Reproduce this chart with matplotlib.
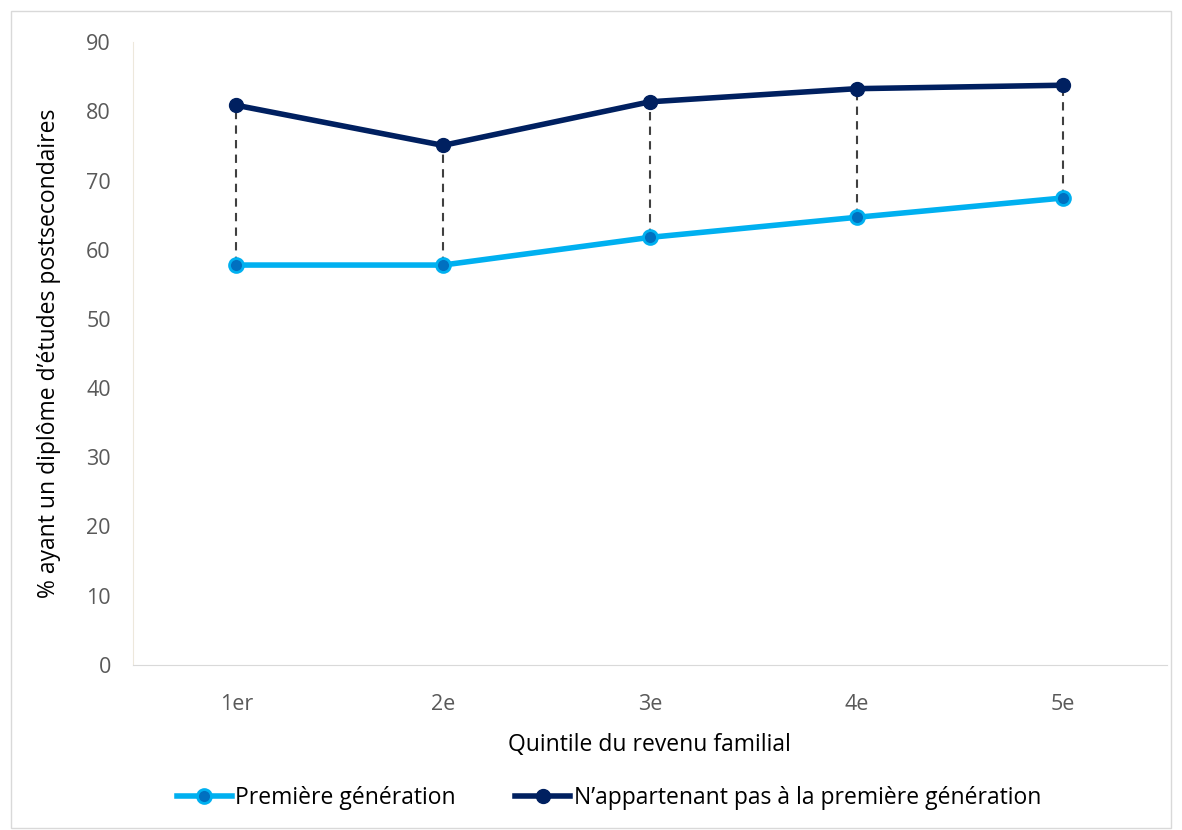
import matplotlib
matplotlib.use('Agg')
import matplotlib.pyplot as plt
from matplotlib.patches import Rectangle

quintiles = ['1er', '2e', '3e', '4e', '5e']
premiere_gen = [57.8, 57.8, 61.8, 64.7, 67.5]
non_premiere = [80.9, 75.1, 81.4, 83.3, 83.8]

plt.rcParams['font.family'] = ['Open Sans', 'DejaVu Sans']

fig = plt.figure(figsize=(11.82, 8.30), dpi=100)
ax = fig.add_axes([0.1125, 0.199, 0.8745, 0.75])

x = list(range(len(quintiles)))

# dashed connectors between the two series
for xi, lo, hi in zip(x, premiere_gen, non_premiere):
    ax.plot([xi, xi], [lo, hi], color='#404040', lw=1.5, ls=(0, (4, 3)), zorder=1)

ax.plot(x, premiere_gen, color='#00B0F0', lw=4, marker='o', markersize=10,
        markerfacecolor='#0070C0', markeredgecolor='#00B0F0', markeredgewidth=2,
        label='Première génération', zorder=2)
ax.plot(x, non_premiere, color='#002060', lw=4, marker='o', markersize=10,
        markerfacecolor='#002060', markeredgecolor='#002060',
        label='N\u2019appartenant pas à la première génération', zorder=2)

ax.set_xlim(-0.5, 4.5)
ax.set_ylim(0, 90)
ax.set_yticks(range(0, 91, 10))
ax.set_xticks(x)
ax.set_xticklabels(quintiles)
ax.tick_params(axis='both', length=0, labelsize=15.5, labelcolor='#595959')
ax.tick_params(axis='x', pad=21)
ax.tick_params(axis='y', pad=16)

for side in ['top', 'right']:
    ax.spines[side].set_visible(False)
ax.spines['left'].set_color('#EDE8DC')
ax.spines['bottom'].set_color('#D9D9D9')

ax.set_xlabel('Quintile du revenu familial', fontsize=16.5, labelpad=13)
ax.set_ylabel('% ayant un diplôme d\u2019études postsecondaires', fontsize=16.5, labelpad=18)

fig.legend(loc='center', bbox_to_anchor=(0.515, 0.039), ncol=2, frameon=False,
           fontsize=16.5, handlelength=2.4, columnspacing=2.6, handletextpad=0.15)

fig.patches.append(Rectangle((0.009, 0.003), 0.982, 0.984, transform=fig.transFigure,
                             fill=False, edgecolor='#D9D9D9', lw=1))

fig.savefig('out.png', dpi=100)
